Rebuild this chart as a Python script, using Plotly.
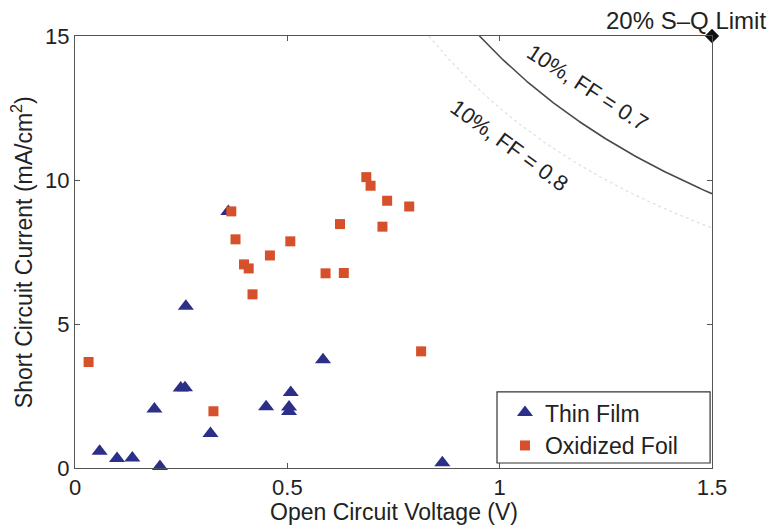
import numpy as np
import plotly.graph_objects as go

# Thin-film cells: open circuit voltage (V) and short circuit current (mA/cm^2)
thin_voc = [0.058, 0.099, 0.135, 0.200, 0.187, 0.249, 0.259, 0.261, 0.319,
            0.450, 0.508, 0.504, 0.504, 0.584, 0.361, 0.865]
thin_jsc = [0.58, 0.33, 0.35, 0.05, 2.05, 2.78, 2.79, 5.62, 1.20,
            2.13, 2.62, 2.12, 1.96, 3.76, 8.91, 0.18]

# Oxidized-foil cells
foil_voc = [0.032, 0.326, 0.418, 0.590, 0.633, 0.398, 0.409, 0.368, 0.378,
            0.459, 0.507, 0.686, 0.696, 0.735, 0.787, 0.624, 0.724, 0.815]
foil_jsc = [3.68, 1.97, 6.03, 6.76, 6.77, 7.07, 6.93, 8.91, 7.94,
            7.38, 7.87, 10.10, 9.80, 9.28, 9.08, 8.47, 8.38, 4.05]

# Iso-efficiency contours: Jsc = efficiency * 100 mW/cm^2 / (FF * Voc)
efficiency_pct = 10
fill_factors = [0.7, 0.8]
contour_labels = ["10%, FF = 0.7", "10%, FF = 0.8"]

# Shockley-Queisser reference point
sq_voc = [1.5]
sq_jsc = [15]
sq_label = "20% S\u2013Q Limit"

x_ticks = [0, 0.5, 1, 1.5]
x_ticktext = ["0", "0.5", "1", "1.5"]
y_ticks = [0, 5, 10, 15]

FONT = "Liberation Sans, Arial, sans-serif"
TXT = "#222222"

fig = go.Figure()

contour_styles = [dict(color="#4a4a4a", width=1.6),
                  dict(color="#e0e0e0", width=1.2, dash="dot")]
for ff, style in zip(fill_factors, contour_styles):
    v_start = efficiency_pct / (ff * 15)
    v = np.linspace(v_start, 1.5, 200)
    j = efficiency_pct / (ff * v)
    fig.add_trace(go.Scatter(x=v, y=j, mode="lines", line=style,
                             showlegend=False, hoverinfo="skip"))

fig.add_trace(go.Scatter(
    x=thin_voc, y=thin_jsc, mode="markers", name="Thin Film",
    marker=dict(symbol="triangle-up", size=14, color="#2c2f88",
                line=dict(width=0)),
    cliponaxis=False))
fig.add_trace(go.Scatter(
    x=foil_voc, y=foil_jsc, mode="markers", name="Oxidized Foil",
    marker=dict(symbol="square", size=10, color="#d6502c",
                line=dict(width=0)),
    cliponaxis=False))
fig.add_trace(go.Scatter(
    x=sq_voc, y=sq_jsc, mode="markers", showlegend=False,
    marker=dict(symbol="diamond", size=11, color="#111111"),
    cliponaxis=False))

annotations = [
    dict(x=1.206, y=13.2, xref="x", yref="y", text=contour_labels[0],
         showarrow=False, textangle=33, font=dict(size=22, color=TXT, family=FONT)),
    dict(x=1.023, y=11.2, xref="x", yref="y", text=contour_labels[1],
         showarrow=False, textangle=36, font=dict(size=22, color=TXT, family=FONT)),
    dict(x=1.088, y=1.037, xref="paper", yref="paper", text=sq_label,
         showarrow=False, xanchor="right", yanchor="middle",
         font=dict(size=24, color=TXT, family=FONT)),
    # axis titles placed directly so the plotting area keeps its size
    dict(x=0.5, y=-0.103, xref="paper", yref="paper", yanchor="middle",
         text="Open Circuit Voltage (V)", showarrow=False,
         font=dict(size=23, color=TXT, family=FONT)),
    dict(x=-0.083, y=0.5, xref="paper", yref="paper", xanchor="center",
         text="Short Circuit Current (mA/cm<sup>2</sup>)", showarrow=False,
         textangle=-90, font=dict(size=23, color=TXT, family=FONT)),
]

axis_common = dict(showline=True, linecolor="#555555", linewidth=1,
                   mirror="ticks", ticks="inside", ticklen=5, tickcolor="#555555",
                   showgrid=False, zeroline=False, automargin=False,
                   tickfont=dict(size=22, color=TXT, family=FONT))

fig.update_layout(
    width=772, height=525,
    margin=dict(l=75, r=60, t=36, b=57),
    paper_bgcolor="white", plot_bgcolor="white",
    font=dict(family=FONT, color=TXT),
    xaxis=dict(range=[0, 1.5], tickvals=x_ticks, ticktext=x_ticktext,
               **axis_common),
    yaxis=dict(range=[0, 15], tickvals=y_ticks, **axis_common),
    legend=dict(x=0.675, y=0.178, xanchor="left", yanchor="top",
                bgcolor="rgba(0,0,0,0)", borderwidth=0,
                font=dict(size=23, color=TXT, family=FONT)),
    shapes=[dict(type="rect", xref="paper", yref="paper",
                 x0=0.6625, x1=0.997, y0=0.0116, y1=0.176,
                 line=dict(color="#333333", width=1.2), fillcolor="rgba(0,0,0,0)")],
    annotations=annotations,
)

fig.write_html("out.html")
